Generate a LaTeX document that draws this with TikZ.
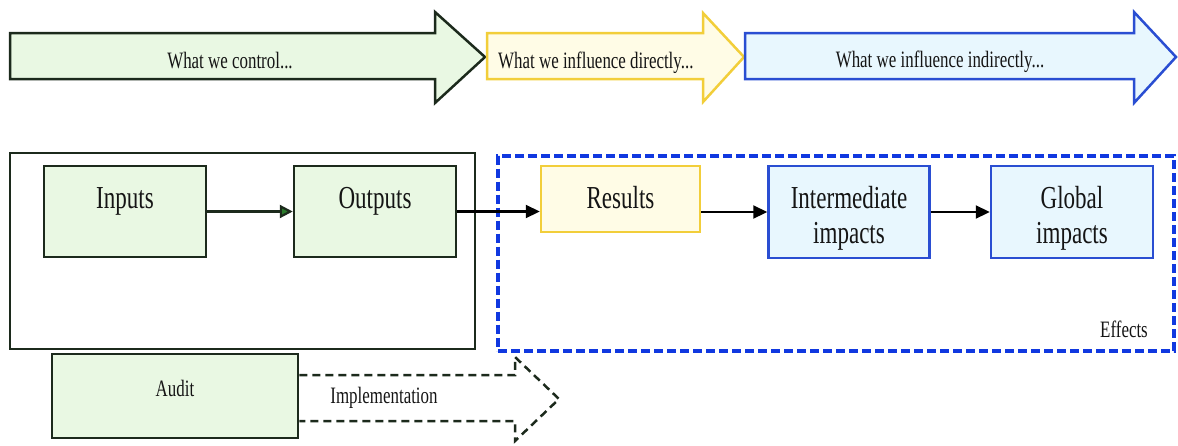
\documentclass[tikz,border=0pt]{standalone}
\usepackage{fontspec}
\setmainfont[FakeStretch=0.72]{Liberation Serif}
\usetikzlibrary{arrows.meta}
\definecolor{gfill}{HTML}{E9F8E3}
\definecolor{gdraw}{HTML}{1C2A1C}
\definecolor{yfill}{HTML}{FFFCE6}
\definecolor{ydraw}{HTML}{F2CE3A}
\definecolor{bfill}{HTML}{E8F7FE}
\definecolor{bdraw}{HTML}{2A4ED2}
\definecolor{edraw}{HTML}{1038E0}
\definecolor{tipgreen}{HTML}{2A7A2A}
\definecolor{txt}{HTML}{151515}
\begin{document}
\begin{tikzpicture}[x=1pt,y=-1pt,
  bigtext/.style={font=\fontsize{32}{35}\selectfont, text=txt, inner sep=0pt},
  smalltext/.style={font=\fontsize{23.5}{26}\selectfont, text=txt, inner sep=0pt},
  gbox/.style={draw=gdraw, fill=gfill, line width=2.5pt, inner sep=0pt},
  ybox/.style={draw=ydraw, fill=yfill, line width=2.5pt, inner sep=0pt},
  bbox/.style={draw=bdraw, fill=bfill, line width=2.5pt, inner sep=0pt},
  flow/.style={line width=2.2pt, draw=black, -{Triangle[length=14pt,width=13pt]}},
  gflow/.style={line width=2.2pt, draw=gdraw, -{Triangle[length=13pt,width=13pt,fill=tipgreen]}},
  bigarrowg/.style={draw=gdraw, fill=gfill, line width=2.5pt},
  bigarrowy/.style={draw=ydraw, fill=yfill, line width=2.5pt},
  bigarrowb/.style={draw=bdraw, fill=bfill, line width=2.5pt},
]
\useasboundingbox (0,0) rectangle (1178,445);

% top band arrows
\draw[bigarrowg] (10,33) -- (435,33) -- (435,12) -- (485,57) -- (435,103) -- (435,79) -- (10,79) -- cycle;
\draw[bigarrowy] (487,33) -- (703,33) -- (703,13) -- (744,57) -- (703,102) -- (703,79) -- (487,79) -- cycle;
\draw[bigarrowb] (745,33) -- (1134,33) -- (1134,12) -- (1176,57) -- (1134,103) -- (1134,79) -- (745,79) -- cycle;
\node[smalltext, anchor=base] (tcontrol) at (230,68) {What we control...};
\node[smalltext, anchor=base west] (tdirect) at (498,68) {What we influence directly...};
\node[smalltext, anchor=base] (tindirect) at (940,67) {What we influence indirectly...};

% frames
\node[draw=gdraw, line width=2.5pt, inner sep=0pt, minimum width=465, minimum height=196] (frame) at (242.5,251) {};
\node[draw=edraw, line width=4pt, dash pattern=on 9pt off 4pt, inner sep=0pt, minimum width=676, minimum height=195] (effects) at (836,253) {};
\node[smalltext, anchor=base east] (teffects) at (1148,337) {Effects};

% boxes
\node[gbox, minimum width=162, minimum height=91] (inputs) at (125,211.5) {};
\node[gbox, minimum width=162, minimum height=91] (outputs) at (375,211.5) {};
\node[ybox, minimum width=159, minimum height=66] (results) at (620.5,199) {};
\node[bbox, minimum width=161, minimum height=92] (inter) at (849,212) {};
\node[bbox, minimum width=162, minimum height=92] (global) at (1072,212) {};
\node[gbox, minimum width=246, minimum height=84] (audit) at (175,396) {};

\node[bigtext, anchor=base] (tinputs) at (125,208) {Inputs};
\node[bigtext, anchor=base] (toutputs) at (375,208) {Outputs};
\node[bigtext, anchor=base] (tresults) at (620.5,208) {Results};
\node[bigtext, anchor=base, align=center] (tinter) at (849,243.5) {Intermediate\\impacts};
\node[bigtext, anchor=base, align=center] (tglobal) at (1072,243.5) {Global\\impacts};
\node[smalltext, anchor=base] (taudit) at (175,396) {Audit};

% connectors
\draw[gflow] (inputs.east) -- (outputs.west);
\draw[flow] (outputs.east) -- (outputs.east -| results.west);
\draw[flow] (results.east |- inter.west) -- (inter.west);
\draw[flow] (inter.east) -- (global.west);

% implementation dashed arrow
\coordinate (it) at (audit.east |- 0,375);
\coordinate (ib) at (audit.east |- 0,421);
\draw[gdraw, line width=2.5pt, dash pattern=on 8pt off 5pt]
  (it) -- (515,375) -- (515,357) -- (559,399) -- (515,441) -- (515,421) -- (ib);
\node[smalltext, anchor=base] (timpl) at (384,403) {Implementation};
\end{tikzpicture}
\end{document}
